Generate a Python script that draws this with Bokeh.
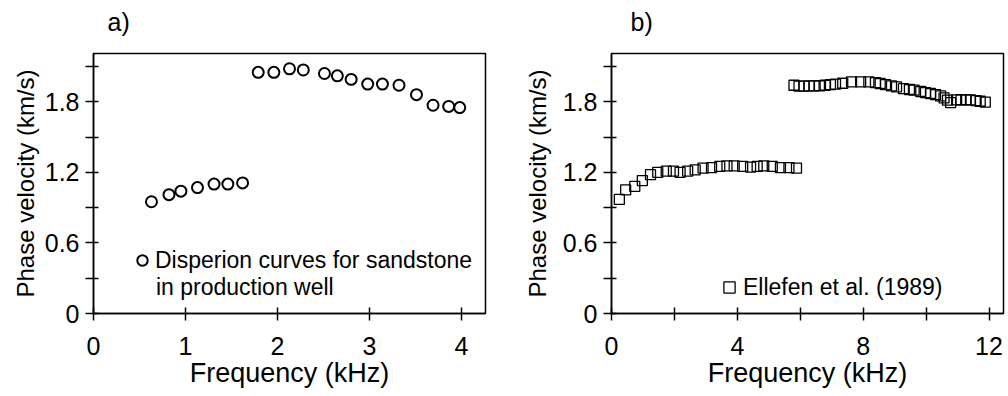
from bokeh.plotting import figure
from bokeh.models import FixedTicker, Legend, LegendItem, Label, Title
from bokeh.layouts import row
from bokeh.embed import file_html
from bokeh.resources import INLINE

# ---- data ----
freq_a = [0.63, 0.82, 0.95, 1.13, 1.31, 1.46, 1.62, 1.79, 1.96, 2.13, 2.28,
          2.51, 2.65, 2.80, 2.98, 3.14, 3.32, 3.51, 3.69, 3.86, 3.98]
vel_a = [0.95, 1.01, 1.04, 1.07, 1.10, 1.10, 1.11, 2.05, 2.05, 2.08, 2.07,
         2.04, 2.02, 1.99, 1.95, 1.95, 1.94, 1.86, 1.77, 1.76, 1.75]

freq_b_low = [0.25, 0.45, 0.74, 0.98, 1.24, 1.47, 1.74, 1.97, 2.18, 2.42, 2.66, 2.91,
              3.18, 3.44, 3.67, 3.90, 4.17, 4.42, 4.63, 4.84, 5.11, 5.37, 5.64, 5.88]
vel_b_low = [0.97, 1.05, 1.08, 1.13, 1.18, 1.20, 1.21, 1.21, 1.20, 1.21, 1.22, 1.235,
             1.24, 1.25, 1.255, 1.255, 1.25, 1.245, 1.25, 1.255, 1.25, 1.24, 1.24, 1.235]
freq_b_high = [5.80, 5.96, 6.12, 6.28, 6.44, 6.61, 6.79, 6.96, 7.12, 7.35, 7.63, 7.92,
               8.18, 8.39, 8.54, 8.71, 8.90, 9.06, 9.28, 9.47, 9.62, 9.83, 9.98, 10.14,
               10.30, 10.46, 10.57, 10.68, 10.78, 10.97, 11.11, 11.26, 11.41, 11.59, 11.72, 11.88]
vel_b_high = [1.940, 1.932, 1.932, 1.934, 1.934, 1.936, 1.940, 1.946, 1.949, 1.957, 1.968, 1.969,
              1.969, 1.963, 1.955, 1.946, 1.934, 1.926, 1.911, 1.904, 1.898, 1.887, 1.878, 1.870,
              1.861, 1.849, 1.832, 1.813, 1.793, 1.815, 1.817, 1.817, 1.815, 1.809, 1.804, 1.796]

y_major = [0, 0.6, 1.2, 1.8]
y_minor = [0.3, 0.9, 1.5, 2.1]
y_labels = {0: "0", 0.6: "0.6", 1.2: "1.2", 1.8: "1.8"}
xa_major = [0, 1, 2, 3, 4]
xb_major = [0, 4, 8, 12]
xb_minor = [2, 6, 10]
panel_names = ["a)", "b)"]

FONT = "Liberation Sans"


def make_fig(xmax, panel, title_offset, min_border_left, min_border_right, ylabel_standoff):
    p = figure(x_range=(0, xmax), y_range=(0, 2.21),
               frame_width=392, frame_height=260,
               min_border_left=min_border_left, min_border_right=min_border_right,
               min_border_top=53, min_border_bottom=83,
               output_backend="svg", toolbar_location=None,
               background_fill_color="white", border_fill_color="white")
    p.grid.visible = False
    p.outline_line_color = "black"
    p.outline_line_width = 1.5
    p.outline_line_alpha = 1.0
    # spacer between frame and the panel label, then the panel label itself
    p.add_layout(Title(text=" ", text_font_size="1px", standoff=13), "above")
    p.add_layout(Title(text=panel, align="left", offset=title_offset,
                       vertical_align="top", standoff=0,
                       text_font=FONT, text_font_size="25px",
                       text_font_style="normal", text_color="black"), "above")
    for ax in (p.xaxis[0], p.yaxis[0]):
        ax.axis_line_color = "black"
        ax.axis_line_width = 1.5
        ax.major_tick_line_color = "black"
        ax.minor_tick_line_color = "black"
        ax.major_tick_line_width = 1.5
        ax.minor_tick_line_width = 1.5
        ax.major_label_text_font = FONT
        ax.major_label_text_color = "black"
        ax.major_label_text_font_size = "25px"
        ax.axis_label_text_font = FONT
        ax.axis_label_text_font_style = "normal"
        ax.axis_label_text_color = "black"
    p.xaxis.major_tick_in = 6
    p.xaxis.major_tick_out = 7
    p.xaxis.minor_tick_in = 6
    p.xaxis.minor_tick_out = 7
    p.xaxis.major_label_standoff = 16
    p.xaxis.axis_label = "Frequency (kHz)"
    p.xaxis.axis_label_text_font_size = "27px"
    p.xaxis.axis_label_standoff = 0
    p.yaxis.ticker = FixedTicker(ticks=y_major, minor_ticks=y_minor)
    p.yaxis.major_label_overrides = y_labels
    p.yaxis.major_tick_in = 5
    p.yaxis.major_tick_out = 8
    p.yaxis.minor_tick_in = 5
    p.yaxis.minor_tick_out = 8
    p.yaxis.major_label_standoff = 6
    p.yaxis.axis_label = "Phase velocity (km/s)"
    p.yaxis.axis_label_text_font_size = "24px"
    p.yaxis.axis_label_standoff = ylabel_standoff
    return p


# ---- panel a ----
pa = make_fig(4.26, panel_names[0], 14, 93, 35, 3)
pa.xaxis.ticker = FixedTicker(ticks=xa_major, minor_ticks=[])
ra = pa.scatter(freq_a, vel_a, marker="circle", size=11, fill_color=None,
                line_color="black", line_width=2)
leg_a = Legend(items=[LegendItem(label="Disperion curves for sandstone", renderers=[ra])],
               location=(36, 38), padding=0, margin=0, spacing=0,
               glyph_width=26, glyph_height=30, label_standoff=0,
               border_line_color=None, background_fill_alpha=0,
               label_text_font=FONT, label_text_font_size="23px",
               label_text_color="black")
pa.add_layout(leg_a)
pa.add_layout(Label(x=62.5, y=27, x_units="screen", y_units="screen",
                    text="in production well", text_font=FONT,
                    text_font_size="23px", text_color="black",
                    text_baseline="alphabetic"))

# ---- panel b ----
pb = make_fig(12.46, panel_names[1], 19, 91, 5, 9)
pb.xaxis.ticker = FixedTicker(ticks=xb_major, minor_ticks=xb_minor)
rb = pb.scatter(freq_b_low + freq_b_high, vel_b_low + vel_b_high, marker="square",
                size=10, fill_color=None, line_color="black", line_width=1.3)
leg_b = Legend(items=[LegendItem(label="Ellefen et al. (1989)", renderers=[rb])],
               location=(104, 12), padding=0, margin=0, spacing=0,
               glyph_width=28, glyph_height=28, label_standoff=0,
               border_line_color=None, background_fill_alpha=0,
               label_text_font=FONT, label_text_font_size="23px",
               label_text_color="black")
pb.add_layout(leg_b)

layout = row(pa, pb)
open("out.html", "w").write(file_html(layout, INLINE))
